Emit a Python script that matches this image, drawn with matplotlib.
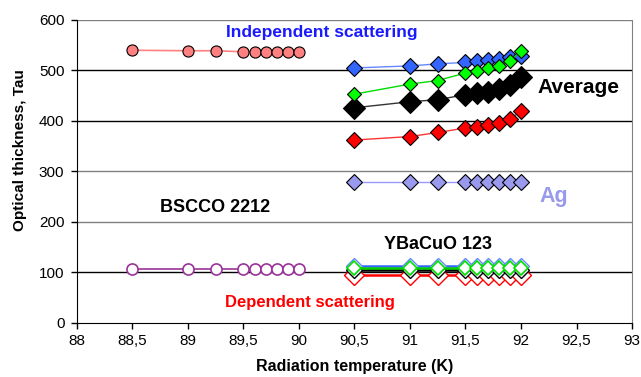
import numpy as np
import matplotlib
matplotlib.use('Agg')
import matplotlib.pyplot as plt

plt.rcParams['font.family'] = ['Liberation Sans', 'DejaVu Sans']

# BSCCO 2212 (circles)
t_bscco = [88.5, 89.0, 89.25, 89.5, 89.6, 89.7, 89.8, 89.9, 90.0]
tau_bscco_indep = [540, 539, 539, 537, 537, 537, 537, 537, 537]
tau_bscco_dep = [107, 107, 107, 107, 107, 107, 107, 107, 107]

# YBaCuO 123 / Ag (diamonds)
t_ybco = [90.5, 91.0, 91.25, 91.5, 91.6, 91.7, 91.8, 91.9, 92.0]
tau_indep = [505, 509, 513, 516, 519, 521, 523, 526, 528]
tau_green = [453, 473, 480, 495, 498, 504, 509, 519, 538]
tau_avg = [426, 438, 442, 452, 455, 458, 463, 472, 487]
tau_red = [362, 369, 377, 386, 388, 391, 396, 404, 419]
tau_ag = [278, 278, 278, 278, 278, 278, 278, 278, 278]

tau_dep_blue = [113, 113, 113, 113, 113, 113, 113, 113, 113]
tau_dep_green = [109, 109, 109, 109, 109, 109, 109, 109, 109]
tau_dep_black = [105, 105, 105, 105, 105, 105, 105, 105, 105]
tau_dep_red = [95, 95, 95, 95, 95, 95, 95, 95, 95]

xticks = [88, 88.5, 89, 89.5, 90, 90.5, 91, 91.5, 92, 92.5, 93]
yticks = [0, 100, 200, 300, 400, 500, 600]

fig = plt.figure(figsize=(6.41, 3.77), dpi=100)
ax = fig.add_axes([0.120, 0.144, 0.866, 0.803])

# gridlines
for y in yticks[1:]:
    c = 'black' if y in (100, 400, 500) else '#808080'
    ax.axhline(y, color=c, lw=1.0, zorder=0)

# BSCCO
ax.plot(t_bscco, tau_bscco_indep, '-o', color='#ff8080', mfc='#ff8080', mec='black',
        mew=0.8, ms=8, lw=1.2, zorder=3)
ax.plot(t_bscco, tau_bscco_dep, '-o', color='#993399', mfc='white', mec='#993399',
        mew=1.2, ms=8, lw=1.2, zorder=3)

# filled diamonds
ax.plot(t_ybco, tau_red, '-D', color='#ff3333', mfc='#ff0000', mec='black', mew=0.8, ms=8, lw=1, zorder=3)
ax.plot(t_ybco, tau_avg, '-D', color='#333333', mfc='black', mec='black', mew=0.8, ms=11, lw=1, zorder=3)
ax.plot(t_ybco, tau_indep, '-D', color='#6688ff', mfc='#3366ff', mec='black', mew=0.8, ms=8, lw=1, zorder=3)
ax.plot(t_ybco, tau_green, '-D', color='#00dd00', mfc='#00ff00', mec='black', mew=0.8, ms=7.5, lw=1, zorder=4)
ax.plot(t_ybco, tau_ag, '-D', color='#9999ff', mfc='#9999ee', mec='black', mew=0.8, ms=8, lw=1, zorder=3)

# open diamonds (dependent scattering)
ax.plot(t_ybco, tau_dep_red, '-D', color='#ff0000', mfc='white', mec='#ff0000', mew=1, ms=10, lw=1.8, zorder=3)
ax.plot(t_ybco, tau_dep_black, '-D', color='black', mfc='white', mec='black', mew=1, ms=8, lw=1.8, zorder=3)
ax.plot(t_ybco, tau_dep_blue, '-D', color='#3366ff', mfc='white', mec='#6688ff', mew=1, ms=8.5, lw=1.8, zorder=3)
ax.plot(t_ybco, tau_dep_green, '-D', color='#00cc00', mfc='white', mec='#00dd00', mew=1.2, ms=7, lw=1.8, zorder=4)

# annotations
ax.text(90.21, 575, 'Independent scattering', color='#1a1aff', fontsize=12.5, fontweight='bold',
        ha='center', va='center')
ax.text(92.15, 466, 'Average', color='black', fontsize=15, fontweight='bold', ha='left', va='center')
ax.text(88.75, 228, 'BSCCO 2212', color='black', fontsize=13, fontweight='bold', ha='left', va='center')
ax.text(92.17, 251, 'Ag', color='#9999ee', fontsize=15.5, fontweight='bold', ha='left', va='center')
ax.text(90.77, 156, 'YBaCuO 123', color='black', fontsize=13, fontweight='bold', ha='left', va='center')
ax.text(89.33, 41, 'Dependent scattering', color='#ff0000', fontsize=12, fontweight='bold',
        ha='left', va='center')

ax.set_xlim(88, 93)
ax.set_ylim(0, 600)
ax.set_xticks(xticks)
ax.set_xticklabels([('%g' % v).replace('.', ',') for v in xticks])
ax.set_yticks(yticks)
ax.tick_params(axis='both', labelsize=11, direction='out', length=4, width=1, color='black')
ax.tick_params(axis='x', pad=4)
ax.tick_params(axis='y', pad=5)

ax.spines['top'].set_visible(False)
ax.spines['right'].set_color('#808080')
ax.spines['left'].set_color('black')
ax.spines['bottom'].set_color('black')

ax.set_xlabel('Radiation temperature (K)', fontsize=11.5, fontweight='bold', labelpad=8)
ax.set_ylabel('Optical thickness, Tau', fontsize=11, fontweight='bold')
ax.yaxis.set_label_coords(-0.09, 0.57)

fig.savefig('out.png', dpi=100)
